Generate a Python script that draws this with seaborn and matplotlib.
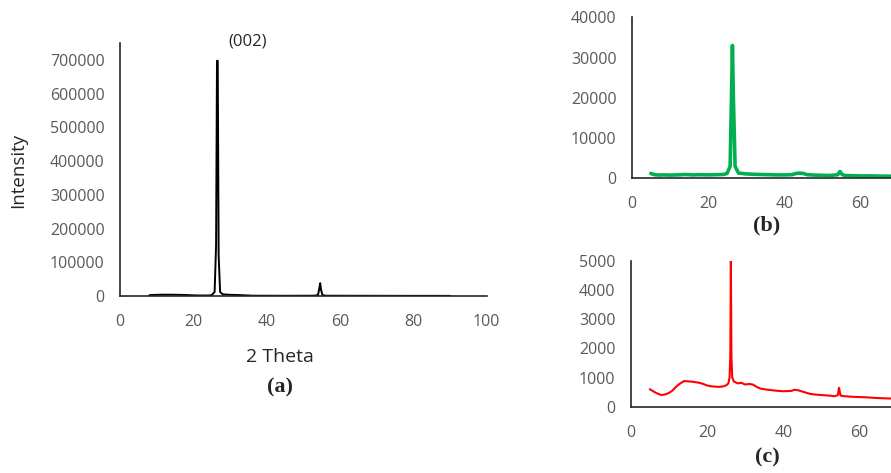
import matplotlib
matplotlib.use("Agg")
import matplotlib.pyplot as plt
import seaborn as sns
import pandas as pd

sns.set_style("white")
plt.rcParams['font.family'] = ['Open Sans', 'DejaVu Sans']

# ---- data ----
two_theta_a = [8, 10, 12, 14, 16, 18, 20, 22, 24, 25, 25.8, 26.2, 26.45, 26.65, 26.9, 27.3, 28, 30, 32, 34,
               36, 40, 45, 50, 53, 54, 54.4, 54.6, 54.8, 55.2, 56, 60, 70, 80, 90]
intensity_a = [2500, 3500, 4000, 3800, 3500, 3000, 2000, 1500, 1500, 2500, 12000, 150000, 698000, 698000,
               120000, 12000, 5000, 3500, 3000, 2000, 1000, 800, 700, 800, 1000, 3000, 25000, 38000, 20000,
               3000, 1000, 800, 600, 500, 400]

two_theta_b = [5, 6, 7, 8, 10, 12, 14, 16, 18, 20, 22, 24, 25, 25.8, 26.15, 26.4, 26.65, 27.1, 28, 30, 32,
               34, 36, 38, 40, 42, 43, 44, 45, 46, 48, 50, 52, 54, 54.6, 55.2, 56, 58, 60, 62, 65, 70, 75, 80]
intensity_b = [1200, 900, 800, 850, 800, 850, 950, 850, 900, 850, 900, 950, 1200, 3000, 20000, 33000, 20000,
               3000, 1300, 1100, 1000, 950, 900, 850, 850, 900, 1200, 1300, 1200, 900, 800, 750, 700, 900,
               1700, 900, 700, 650, 600, 600, 550, 500, 450, 450]

two_theta_c = [5, 6, 7, 8, 9, 10, 11, 12, 13, 14, 15, 16, 17, 18, 19, 20, 21, 22, 23, 24, 25, 25.6, 25.9,
               26.1, 26.25, 26.4, 26.6, 27, 28, 29, 30, 31, 32, 33, 34, 35, 36, 38, 40, 42, 43, 44, 45,
               46, 47, 48, 50, 52, 53.5, 54.3, 54.6, 55, 56, 58, 60, 62, 64, 66, 68, 70, 75, 80]
intensity_c = [600, 520, 450, 400, 420, 470, 560, 700, 800, 880, 870, 860, 840, 820, 780, 730, 700, 690,
               680, 690, 730, 800, 1000, 1700, 5000, 1700, 1000, 870, 800, 820, 760, 780, 760, 680, 620,
               600, 580, 550, 530, 540, 580, 560, 520, 480, 440, 420, 400, 380, 360, 400, 650, 380, 360,
               340, 330, 320, 300, 290, 280, 270, 250, 230]

ticks_a_x = [0, 20, 40, 60, 80, 100]
ticks_a_y = [0, 100000, 200000, 300000, 400000, 500000, 600000, 700000]
ticks_b_x = [0, 20, 40, 60]
ticks_b_y = [0, 10000, 20000, 30000, 40000]
ticks_c_x = [0, 20, 40, 60]
ticks_c_y = [0, 1000, 2000, 3000, 4000, 5000]

df_a = pd.DataFrame({"x": two_theta_a, "y": intensity_a})
df_b = pd.DataFrame({"x": two_theta_b, "y": intensity_b})
df_c = pd.DataFrame({"x": two_theta_c, "y": intensity_c})

fig = plt.figure(figsize=(8.91, 4.73), dpi=100)
ax_a = fig.add_axes([0.1347, 0.3742, 0.4115, 0.5344])
ax_b = fig.add_axes([0.709, 0.623, 0.3425, 0.3404])
ax_c = fig.add_axes([0.7079, 0.1402, 0.3425, 0.308])

sns.lineplot(data=df_a, x="x", y="y", ax=ax_a, color="black", lw=1.4)
sns.lineplot(data=df_b, x="x", y="y", ax=ax_b, color="#00B050", lw=2.6)
sns.lineplot(data=df_c, x="x", y="y", ax=ax_c, color="#FF0000", lw=1.5)

grey = "#595959"
for ax, xt, xmax, yt, ylim in [(ax_a, ticks_a_x, 100, ticks_a_y, 750000),
                                (ax_b, ticks_b_x, 80, ticks_b_y, 40000),
                                (ax_c, ticks_c_x, 80, ticks_c_y, 5000)]:
    ax.set_xlim(0, xmax)
    ax.set_ylim(0, ylim)
    ax.set_xticks(xt)
    ax.set_yticks(yt)
    ax.set_xticklabels([str(v) for v in xt])
    ax.set_yticklabels([str(v) for v in yt])
    ax.set_xlabel("")
    ax.set_ylabel("")
    for s in ["top", "right"]:
        ax.spines[s].set_visible(False)
    for s in ["left", "bottom"]:
        ax.spines[s].set_color("#262626")
        ax.spines[s].set_linewidth(1.2)
    ax.tick_params(axis="both", direction="out", length=5, width=1.2, color="#262626",
                   labelcolor=grey, labelsize=11.5)
    ax.tick_params(axis="x", pad=8)
    ax.tick_params(axis="y", pad=6)
    ax.set_facecolor("none")

fig.text(0.3143, 0.245, "2 Theta", ha="center", va="center", fontsize=14, color="#262626")
fig.text(0.020, 0.64, "Intensity", ha="center", va="center", rotation=90, fontsize=13.5, color="#262626")
fig.text(0.278, 0.912, "(002)", ha="center", va="center", fontsize=12, color="#262626")

serif = ["Liberation Serif", "DejaVu Serif"]
fig.text(0.3143, 0.180, "(a)", ha="center", va="center", fontsize=16, fontweight="bold", family=serif)
fig.text(0.860, 0.524, "(b)", ha="center", va="center", fontsize=16, fontweight="bold", family=serif)
fig.text(0.861, 0.032, "(c)", ha="center", va="center", fontsize=16, fontweight="bold", family=serif)

fig.savefig("out.png", dpi=100)
